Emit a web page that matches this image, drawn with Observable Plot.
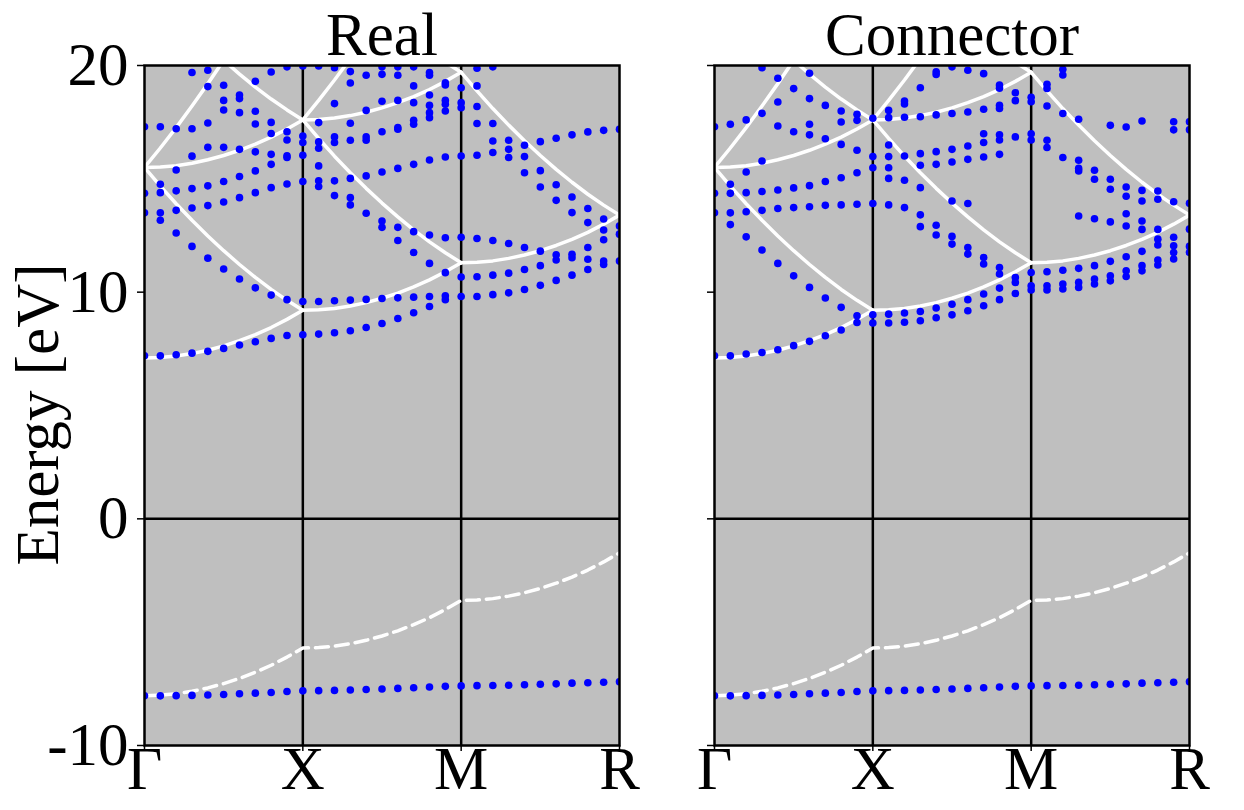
<!DOCTYPE html>
<html>
<head>
<meta charset="utf-8">
<script src="https://cdn.jsdelivr.net/npm/d3@7"></script>
<script src="https://cdn.jsdelivr.net/npm/@observablehq/plot@0.6"></script>
<style>
  html, body { margin: 0; padding: 0; background: white; }
  #wrap { position: relative; width: 1244px; height: 810px; background: white; overflow: hidden; }
  #wrap > svg { position: absolute; top: 0; }
</style>
</head>
<body>
<div id="wrap"></div>
<script>
// ---- axis labels / ticks ----
const kLabels = ["Γ", "X", "M", "R"];
const kTickIdx = [0, 10, 20, 30];
const eTicks = [-10, 0, 10, 20];
const eTickLabels = ["-10", "0", "10", "20"];
const panelTitles = ["Real", "Connector"];
const yLabel = "Energy [eV]";

// ---- white free-electron bands (values at the 11 k-points of each segment) ----
const freeGX = [
  [7.10, 7.12, 7.18, 7.29, 7.44, 7.63, 7.86, 8.13, 8.44, 8.80, 9.20],
  [15.50, 14.68, 13.90, 13.17, 12.48, 11.83, 11.22, 10.65, 10.12, 9.64, 9.20],
  [15.50, 15.52, 15.58, 15.69, 15.84, 16.03, 16.26, 16.53, 16.84, 17.20, 17.60],
  [15.50, 16.36, 17.26, 18.21, 19.20, 20.23, null, null, null, null, null],
  [null, null, null, null, null, 20.23, 19.62, 19.05, 18.52, 18.04, 17.60]
];
const freeXM = [
  [9.20, 9.22, 9.28, 9.39, 9.54, 9.73, 9.96, 10.23, 10.54, 10.90, 11.30],
  [17.60, 16.78, 16.00, 15.27, 14.58, 13.93, 13.32, 12.75, 12.22, 11.74, 11.30],
  [17.60, 17.62, 17.68, 17.79, 17.94, 18.13, 18.36, 18.63, 18.94, 19.30, 19.70],
  [17.60, 18.46, 19.36, 20.31, null, null, null, null, null, null, null],
  [null, null, null, null, null, null, null, null, null, 20.14, 19.70]
];
const freeMR = [
  [11.30, 11.32, 11.38, 11.49, 11.64, 11.83, 12.06, 12.33, 12.64, 13.00, 13.40],
  [19.70, 18.88, 18.10, 17.37, 16.68, 16.03, 15.42, 14.85, 14.32, 13.84, 13.40]
];
// dashed lowest band, 31 k-points
const freeLow = [-7.80, -7.78, -7.72, -7.61, -7.46, -7.27, -7.04, -6.77, -6.46, -6.10, -5.70,
  -5.68, -5.62, -5.51, -5.36, -5.17, -4.94, -4.67, -4.36, -4.00, -3.60,
  -3.58, -3.52, -3.41, -3.26, -3.07, -2.84, -2.57, -2.26, -1.90, -1.50];

// ---- blue computed bands: flat low band (same in both panels) ----
const lowBand = [-7.81, -7.81, -7.80, -7.79, -7.77, -7.75, -7.72, -7.69, -7.66, -7.62, -7.59,
  -7.58, -7.57, -7.55, -7.53, -7.51, -7.48, -7.45, -7.42, -7.39, -7.37,
  -7.36, -7.35, -7.34, -7.32, -7.30, -7.28, -7.25, -7.23, -7.21, -7.19];

// ---- blue dots per k-point (31 columns) ----
const realDots = [
  [17.3, 14.36, 13.5, 7.19],
  [17.3, 14.76, 14.39, 13.5, 13.17, 7.19],
  [17.21, 15.39, 14.47, 13.61, 12.61, 7.24],
  [19.69, 17.21, 16.0, 14.57, 13.71, 12.02, 7.31],
  [19.79, 19.07, 17.46, 16.39, 14.69, 13.82, 11.5, 7.39],
  [19.13, 18.46, 18.04, 16.39, 14.88, 13.98, 11.02, 7.52],
  [18.7, 18.54, 17.92, 16.3, 15.1, 14.17, 10.58, 7.67],
  [19.3, 17.98, 17.42, 16.19, 15.35, 14.39, 10.19, 7.81],
  [19.71, 17.49, 17.0, 16.08, 15.64, 14.61, 9.87, 7.96],
  [19.94, 17.08, 16.71, 16.02, 15.94, 14.77, 9.67, 8.09],
  [19.98, 16.89, 16.6, 16.04, 14.88, 9.59, 8.12],
  [19.98, 17.48, 16.63, 16.35, 15.57, 14.91, 14.66, 9.59, 8.15],
  [19.9, 18.32, 16.85, 16.6, 14.91, 14.26, 9.62, 8.21],
  [19.73, 19.23, 17.45, 16.7, 15.02, 14.17, 13.85, 9.65, 8.30],
  [19.57, 18.02, 16.85, 16.7, 15.13, 13.48, 9.68, 8.44],
  [19.94, 19.61, 18.42, 17.08, 15.3, 13.14, 12.86, 9.72, 8.62],
  [19.94, 19.57, 18.46, 17.26, 17.19, 15.46, 12.86, 12.28, 9.75, 8.84],
  [19.94, 19.1, 18.36, 17.58, 17.41, 15.64, 12.67, 11.75, 9.78, 9.09],
  [19.69, 19.57, 18.7, 18.24, 17.92, 17.7, 15.83, 12.52, 11.27, 9.81, 9.37],
  [19.24, 19.14, 18.46, 18.29, 17.99, 15.96, 12.4, 10.86, 9.84, 9.67],
  [19.02, 18.36, 18.14, 16.01, 12.42, 10.67, 9.81],
  [19.88, 19.1, 18.19, 17.44, 16.04, 12.37, 10.68, 9.81],
  [19.94, 17.44, 16.67, 16.16, 12.28, 10.75, 9.89],
  [16.7, 16.3, 15.94, 12.15, 10.84, 9.97],
  [16.48, 15.98, 15.27, 11.97, 11.0, 10.12],
  [16.64, 15.36, 14.64, 11.81, 11.17, 10.30],
  [16.79, 14.74, 14.05, 11.65, 11.42, 10.52],
  [16.94, 14.2, 13.51, 11.67, 11.52, 10.75],
  [17.07, 13.69, 13.07, 11.97, 11.45, 11.0],
  [17.14, 13.23, 12.74, 12.31, 11.37, 11.22],
  [17.19, 12.92, 12.56, 11.37]
];
const connDots = [
  [17.3, 14.36, 13.5, 7.19],
  [17.41, 14.76, 14.36, 13.5, 12.98, 7.19],
  [17.6, 15.3, 14.39, 13.55, 12.44, 7.27],
  [19.9, 17.89, 15.79, 14.44, 13.61, 11.86, 7.34],
  [19.44, 18.39, 17.33, 14.51, 13.69, 11.27, 7.46],
  [18.98, 17.08, 14.6, 13.73, 10.72, 7.64],
  [19.66, 18.54, 17.41, 16.94, 14.7, 13.77, 10.21, 7.83],
  [18.24, 16.77, 14.88, 13.83, 9.74, 8.08],
  [17.99, 17.51, 16.52, 15.05, 13.85, 9.33, 8.33],
  [17.85, 17.58, 16.26, 15.27, 13.88, 8.96, 8.66],
  [17.67, 15.98, 15.49, 13.91, 9.0, 8.64],
  [18.02, 17.7, 16.49, 15.98, 15.49, 15.02, 13.85, 9.03, 8.64],
  [18.43, 18.3, 17.72, 16.01, 14.94, 13.73, 9.08, 8.67],
  [19.02, 17.74, 16.11, 15.6, 14.61, 13.41, 12.89, 9.15, 8.74],
  [19.72, 19.6, 17.82, 16.2, 15.64, 12.95, 12.52, 9.3, 8.87],
  [19.94, 17.88, 16.3, 15.74, 14.02, 12.46, 12.12, 9.47, 9.0],
  [19.79, 17.95, 16.45, 15.86, 13.91, 11.97, 11.68, 9.67, 9.18],
  [19.64, 18.07, 16.99, 16.6, 15.96, 11.53, 11.24, 9.92, 9.4],
  [19.14, 19.0, 18.24, 18.1, 16.94, 16.71, 16.08, 11.09, 10.8, 10.18, 9.67],
  [18.8, 18.45, 16.85, 10.65, 10.43, 9.94],
  [18.6, 18.4, 16.99, 16.71, 10.87, 10.28, 10.1],
  [19.17, 18.99, 18.21, 16.7, 16.38, 10.9, 10.28, 10.1],
  [19.83, 19.58, 17.88, 15.94, 10.97, 10.36, 10.14],
  [17.63, 15.82, 15.46, 15.35, 13.36, 11.05, 10.43, 10.21],
  [15.38, 14.98, 13.24, 11.17, 10.58, 10.36],
  [17.36, 14.98, 14.54, 13.1, 11.36, 10.72, 10.5],
  [17.29, 14.64, 14.23, 13.46, 12.92, 11.56, 10.94, 10.69],
  [17.55, 14.49, 14.02, 13.14, 12.77, 11.8, 11.17, 10.94],
  [14.46, 14.1, 12.77, 12.34, 12.08, 11.42, 11.2],
  [17.52, 17.16, 13.99, 12.42, 12.05, 11.75, 11.46],
  [17.52, 17.16, 13.92, 12.78, 12.02, 11.75]
];

// ---- build tables ----
function segRows(curves, start, tag) {
  const rows = [];
  curves.forEach((c, ci) => c.forEach((e, i) => rows.push({k: start + i, e, id: tag + ci})));
  return rows;
}
const whiteRows = [
  ...segRows(freeGX, 0, "gx"),
  ...segRows(freeXM, 10, "xm"),
  ...segRows(freeMR, 20, "mr")
];
const lowFreeRows = freeLow.map((e, k) => ({k, e}));
function dotRows(cols) {
  const rows = [];
  cols.forEach((col, k) => col.forEach(e => rows.push({k, e})));
  lowBand.forEach((e, k) => rows.push({k, e}));
  return rows;
}

const FONT = "Liberation Serif, Times New Roman, serif";
const FS = 61;

function panel(title, cols, opt) {
  return Plot.plot({
    width: opt.width,
    height: 810,
    marginTop: 65,
    marginBottom: 65,
    marginLeft: opt.marginLeft,
    marginRight: opt.marginRight,
    x: {domain: [0, 30], axis: null},
    y: {domain: [-10, 20], axis: null},
    style: {fontFamily: FONT, background: "transparent", overflow: "visible"},
    marks: [
      Plot.frame({fill: "#bfbfbf"}),
      Plot.ruleX([10, 20], {stroke: "black", strokeWidth: 2.5}),
      Plot.ruleY([0], {stroke: "black", strokeWidth: 2.5}),
      Plot.line(whiteRows, {x: "k", y: "e", z: "id", stroke: "white", strokeWidth: 3.5, clip: true}),
      Plot.line(lowFreeRows, {x: "k", y: "e", stroke: "white", strokeWidth: 3.5, strokeDasharray: "13,7", clip: true}),
      Plot.dot(dotRows(cols), {x: "k", y: "e", r: 3.8, fill: "blue", stroke: null, clip: true}),
      Plot.frame({stroke: "black", strokeWidth: 2.5}),
      Plot.axisX({ticks: kTickIdx, tickFormat: i => kLabels[kTickIdx.indexOf(i)], tickSize: 6, tickPadding: -6,
        fontSize: FS, strokeWidth: 1.5, label: null}),
      Plot.axisY({ticks: eTicks, tickFormat: opt.yLabels ? (v => eTickLabels[eTicks.indexOf(v)]) : (() => ""),
        tickSize: 7, tickPadding: 9, fontSize: FS, strokeWidth: 1.5, label: null}),
      Plot.text([title], {frameAnchor: "top", lineAnchor: "bottom", dy: -11, fontSize: FS, fill: "black"}),
      ...(opt.yLabels ? [Plot.text([yLabel], {frameAnchor: "left", textAnchor: "middle", rotate: -90, dx: -106, dy: 9, fontSize: FS, fill: "black"})] : [])
    ]
  });
}

const wrap = document.getElementById("wrap");
const p1 = panel(panelTitles[0], realDots, {width: 640, marginLeft: 144, marginRight: 21, yLabels: true});
p1.style.left = "0px";
wrap.appendChild(p1);
const p2 = panel(panelTitles[1], connDots, {width: 604, marginLeft: 74, marginRight: 55, yLabels: false});
p2.style.left = "640px";
wrap.appendChild(p2);
</script>
</body>
</html>
